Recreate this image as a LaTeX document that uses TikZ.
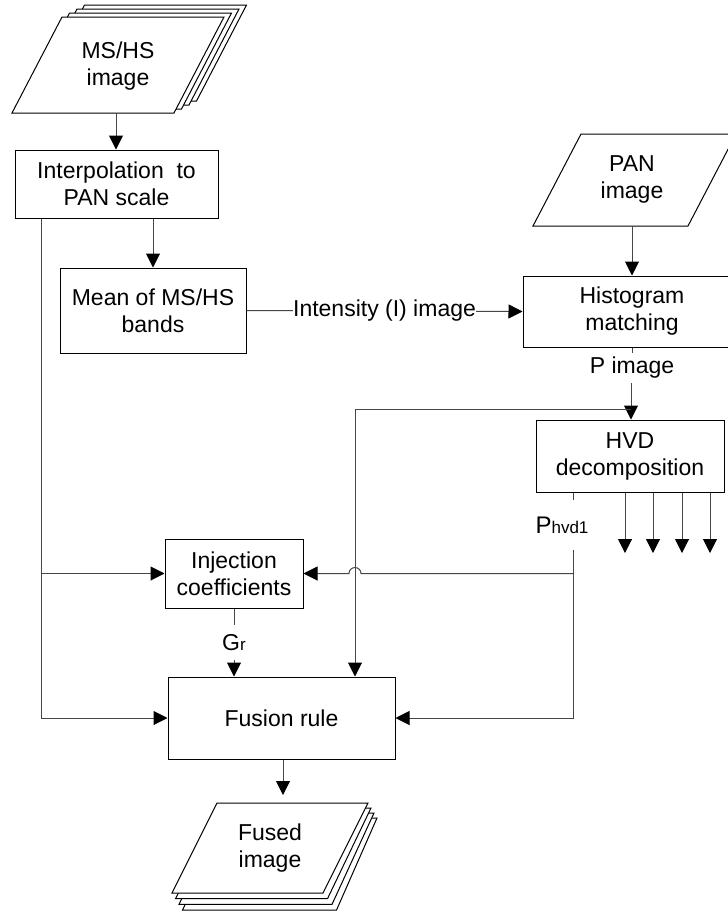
\documentclass[tikz,border=0pt]{standalone}
\usepackage{fontspec}
\setmainfont{Liberation Sans}
\usetikzlibrary{arrows.meta}
\definecolor{linegray}{RGB}{70,70,70}
\newcommand{\mainfs}{\fontsize{23}{27}\selectfont}
\newcommand{\subfs}{\fontsize{17}{17}\selectfont}
\begin{document}
\begin{tikzpicture}[x=1pt,y=-1pt,
  box/.style={draw=black, line width=1pt, fill=white, align=center, font=\mainfs, inner sep=0pt},
  txt/.style={align=center, font=\mainfs, inner sep=0pt},
  lbl/.style={fill=white, font=\mainfs, inner sep=0pt},
  sheet/.style={draw=black, line width=1pt, fill=white},
  conn/.style={draw=linegray, line width=1pt},
  arr/.style={conn, -{Triangle[width=14pt,length=14pt,color=black,fill=black]}}]
\useasboundingbox (0,0) rectangle (728,914);
\clip (0,0) rectangle (728,914);
\fill[white] (0,0) rectangle (728,914);

% MS/HS stacked sheets
\foreach \k in {3,2,1,0}{
  \draw[sheet] ({12+7.5*\k},{113-4*\k}) -- ({174+7.5*\k},{113-4*\k}) -- ({224+7.5*\k},{17-4*\k}) -- ({62+7.5*\k},{17-4*\k}) -- cycle;
}
\node[txt] (msimg) at (118,66) {MS/HS\\image};
\coordinate (msb) at (116,113);

% PAN image
\draw[sheet] (533,226) -- (688,226) -- (736,134) -- (581,134) -- cycle;
\node[txt] (panimg) at (632,179) {PAN\\image};
\coordinate (panb) at (632,226);

% boxes
\node[box, minimum width=203pt, minimum height=68pt] (interp) at (116.5,184) {Interpolation\ \ to\\PAN scale};
\node[box, minimum width=186pt, minimum height=85pt] (mean) at (153,310.5) {Mean of MS/HS\\bands};
\node[box, minimum width=218pt, minimum height=71pt] (hist) at (632,311.5) {Histogram\\matching};
\node[box, minimum width=188pt, minimum height=72pt] (hvd) at (630,456) {HVD\\decomposition};
\node[box, minimum width=138pt, minimum height=69pt] (inj) at (234,573.5) {Injection\\coefficients};
\node[box, minimum width=227pt, minimum height=82pt] (fusion) at (281.5,718) {Fusion rule};

% labels
\node[lbl, minimum height=30pt] (pimg) at (632,368) {P image};
\node[font=\mainfs, inner sep=0pt, minimum height=49pt] (phvd) at (562,525) {\fontsize{24}{24}\selectfont P{\subfs hvd1}};
\node[font=\mainfs, inner sep=0pt, minimum height=35pt] (gr) at (234,642.5) {G{\subfs r}};

% helper coordinates
\coordinate (lx) at (41,0);
\coordinate (px) at (573,0);
\coordinate (br) at (631,409);
\coordinate (vj) at (355,409);

% connectors
\draw[arr] (msb) -- (msb |- interp.north);
\draw[arr] (interp.south -| mean.north) -- (mean.north);
\draw[arr] (mean.east) -- node[lbl] (intens) {Intensity (I) image} (hist.west);
\draw[arr] (panb) -- (panb |- hist.north);
\draw[conn] (hist.south -| pimg) -- (pimg.north);
\draw[arr] (pimg.south -| br) -- (br |- hvd.north);
\draw[arr] (br) -- (vj) -- (vj |- fusion.north);

\foreach \xx [count=\i] in {625,653,682,710}{
  \coordinate (hout\i) at (\xx,553);
  \draw[arr] (hvd.south -| hout\i) -- (hout\i);
}

\draw[conn] (hvd.south -| px) -- (phvd.north -| px);
\draw[arr] (phvd.south -| px) -- (px |- fusion.east) -- (fusion.east);
\draw[arr] (px |- inj.east) -- ([xshift=6pt]vj |- inj.east) arc[start angle=0, end angle=180, radius=6pt] -- (inj.east);

\draw[conn] (inj.south) -- (gr.north);
\draw[arr] (gr.south) -- (gr.south |- fusion.north);

\draw[arr] (interp.south -| lx) -- (lx |- fusion.west) -- (fusion.west);
\draw[arr] (lx |- inj.west) -- (inj.west);

% Fused image stacked sheets
\foreach \k in {3,2,1,0}{
  \draw[sheet] ({172+3.5*\k},{893+5.7*\k}) -- ({323+4.5*\k},{893+5.7*\k}) -- ({368+3*\k},{803+5*\k}) -- ({217+3*\k},{803+5*\k}) -- cycle;
}
\node[txt] (fused) at (270,848) {Fused\\image};
\coordinate (fust) at (283,795);
\draw[arr] (fusion.south -| fust) -- (fust);
\end{tikzpicture}
\end{document}
